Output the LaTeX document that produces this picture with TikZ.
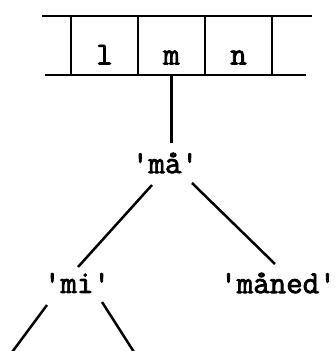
\documentclass[tikz,border=0pt]{standalone}
\usepackage{fontspec}
\newfontfamily\typefont[FakeBold=2.5]{Latin Modern Mono}
\usetikzlibrary{positioning}

\begin{document}
\begin{tikzpicture}[x=1pt, y=-1pt, line width=2.5pt,
    font=\typefont\fontsize{32}{36}\selectfont,
    cell/.style={draw, minimum width=67pt, minimum height=59pt, inner sep=0pt,
      outer sep=0pt, text height=38pt, text depth=0pt},
    word/.style={inner sep=0pt}]
  \clip (0,0) rectangle (336,351);
  % trie node: a row of letter cells
  \node[cell] (l) at (104.5,45.5) {l};
  \node[cell, right=0pt of l] (m) {m};
  \node[cell, right=0pt of m] (n) {n};
  \draw ([xshift=-29pt]l.north west) -- ([xshift=40pt]n.north east);
  \draw ([xshift=-26pt]l.south west) -- ([xshift=34pt]n.south east);
  % words hanging under 'm'
  \node[word] (ma) at (165,163) {'må'};
  \node[word] (mi) at (77,283) {'mi'};
  \node[word] (maned) at (278,283) {'måned'};
  \coordinate (mi-l) at (4,363);
  \coordinate (mi-r) at (141,363);
  \draw (m.south) -- ([shift={(6.5,-20)}]ma.center);
  \draw ([shift={(-13,22)}]ma.center) -- ([shift={(1,-16)}]mi.center);
  \draw ([shift={(27,20)}]ma.center) -- ([shift={(-3,-19)}]maned.center);
  \draw ([shift={(-30,22)}]mi.center) -- (mi-l);
  \draw ([shift={(25,19)}]mi.center) -- (mi-r);
\end{tikzpicture}
\end{document}
